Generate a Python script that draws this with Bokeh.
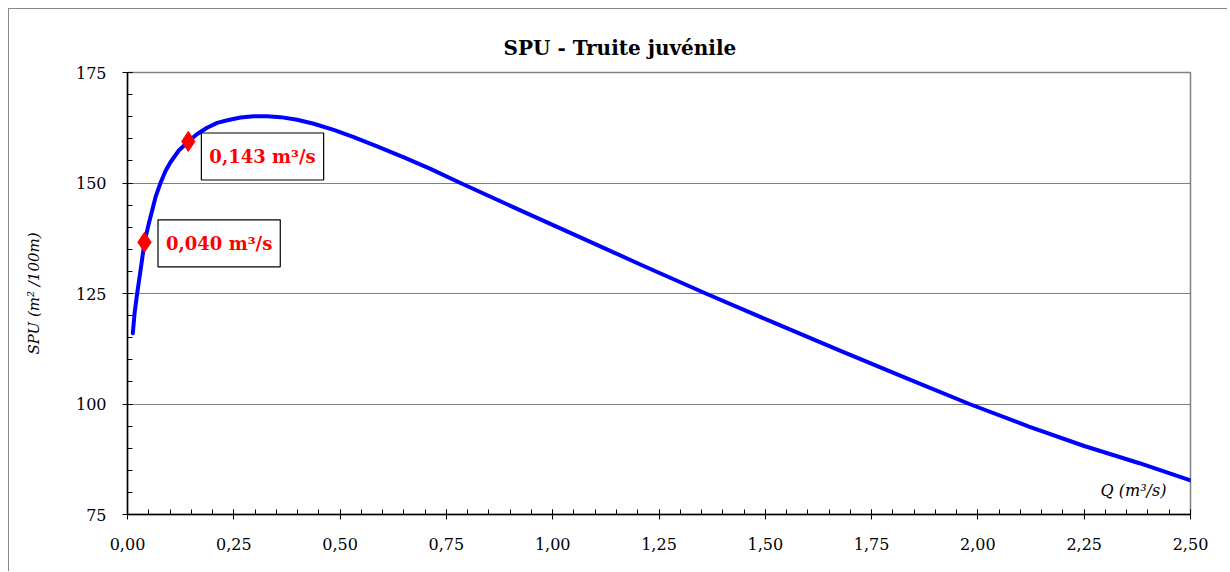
from bokeh.plotting import figure
from bokeh.models import (Range1d, FixedTicker, CustomJSTickFormatter, Label,
                          ColumnDataSource)
from bokeh.embed import file_html
from bokeh.resources import INLINE

# ---- data ----
q_values = [0.0125, 0.0165, 0.0227, 0.0306, 0.040, 0.050, 0.058, 0.0659,
            0.0776, 0.0894, 0.101, 0.1207, 0.143, 0.164, 0.187, 0.211, 0.235,
            0.266, 0.297, 0.3285, 0.360, 0.399, 0.438, 0.485, 0.532, 0.587,
            0.650, 0.7125, 0.783, 0.924, 1.065, 1.210, 1.360, 1.520, 1.670,
            1.830, 1.980, 2.120, 2.250, 2.380, 2.500]
spu_values = [116.0, 120.4, 125.0, 130.2, 136.6, 140.8, 143.8, 146.8,
              150.0, 152.7, 154.7, 157.35, 159.4, 161.1, 162.5, 163.6, 164.2,
              164.8, 165.1, 165.1, 164.9, 164.3, 163.4, 162.0, 160.4, 158.3,
              155.8, 153.2, 150.0, 143.8, 137.7, 131.4, 125.0, 118.4, 112.3,
              105.9, 100.0, 94.9, 90.5, 86.6, 82.7]
marker_q = [0.040, 0.143]
marker_spu = [136.6, 159.4]
marker_labels = ["0,040 m³/s", "0,143 m³/s"]
x_ticks = [0.0, 0.25, 0.5, 0.75, 1.0, 1.25, 1.5, 1.75, 2.0, 2.25, 2.5]
y_ticks = [75, 100, 125, 150, 175]

SERIF = "DejaVu Serif"
GRAY = "#808080"

p = figure(width=1219, height=563, output_backend="svg", toolbar_location=None,
           x_range=Range1d(0, 2.5), y_range=Range1d(75, 175),
           min_border_left=118, min_border_right=38, min_border_top=63,
           min_border_bottom=58,
           title="SPU - Truite juvénile")
p.styles = {"margin-left": "8px", "margin-top": "8px",
            "border-left": "1px solid #888888",
            "border-top": "1px solid #888888"}

p.title.text_font = SERIF
p.title.text_font_size = "20px"
p.title.text_font_style = "bold"
p.title.text_color = "black"
p.title.align = "left"
p.title.offset = 376
p.title.standoff = 25

p.outline_line_color = GRAY
p.outline_line_width = 1.5

fmt = CustomJSTickFormatter(code="return tick.toFixed(2).replace('.', ',');")

for ax in (p.xaxis[0], p.yaxis[0]):
    ax.axis_line_color = "black"
    ax.axis_line_width = 1.5
    ax.major_tick_line_color = "black"
    ax.minor_tick_line_color = "black"
    ax.major_tick_in = 5
    ax.major_tick_out = 5
    ax.minor_tick_in = 5
    ax.minor_tick_out = 0
    ax.major_label_text_font = SERIF
    ax.major_label_text_font_size = "16px"
    ax.major_label_text_color = "black"

p.xaxis.major_label_standoff = 18
p.yaxis.major_label_standoff = 16

p.xaxis.ticker = FixedTicker(ticks=x_ticks,
                             minor_ticks=[i * 0.05 for i in range(51)])
p.xaxis.formatter = fmt
p.yaxis.ticker = FixedTicker(ticks=y_ticks, minor_ticks=list(range(75, 176, 5)))
p.yaxis.axis_label = "SPU (m² /100m)"
p.yaxis.axis_label_text_font = SERIF
p.yaxis.axis_label_text_font_style = "italic"
p.yaxis.axis_label_text_font_size = "15px"
p.yaxis.axis_label_text_color = "black"
p.yaxis.axis_label_standoff = 30

p.xgrid.grid_line_color = None
p.ygrid.grid_line_color = GRAY
p.ygrid.grid_line_width = 1
p.ygrid.ticker = FixedTicker(ticks=y_ticks)

src = ColumnDataSource(dict(q=q_values, spu=spu_values))
p.line("q", "spu", source=src, line_color="#0000FF", line_width=4,
       line_join="round", line_cap="round")

msrc = ColumnDataSource(dict(q=marker_q, spu=marker_spu))
p.scatter("q", "spu", source=msrc, marker="diamond", size=20,
          fill_color="red", line_color="red")

# annotation boxes next to the markers
label_pos = [(0.2155, 136.35), (0.3175, 156.0)]
for (lx, ly), txt in zip(label_pos, marker_labels):
    p.add_layout(Label(x=lx, y=ly, text=txt, text_align="center",
                       text_baseline="middle", text_font=SERIF,
                       text_font_style="bold", text_font_size="18px",
                       text_color="red", border_line_color="black",
                       border_line_width=1.2, background_fill_color="white",
                       padding=dict(left=8, right=8, top=13, bottom=13)))

p.add_layout(Label(x=2.366, y=80.4, text="Q (m³/s)", text_align="center",
                   text_baseline="middle", text_font=SERIF,
                   text_font_style="italic", text_font_size="16px",
                   text_color="black"))

open("out.html", "w").write(file_html(p, INLINE))
